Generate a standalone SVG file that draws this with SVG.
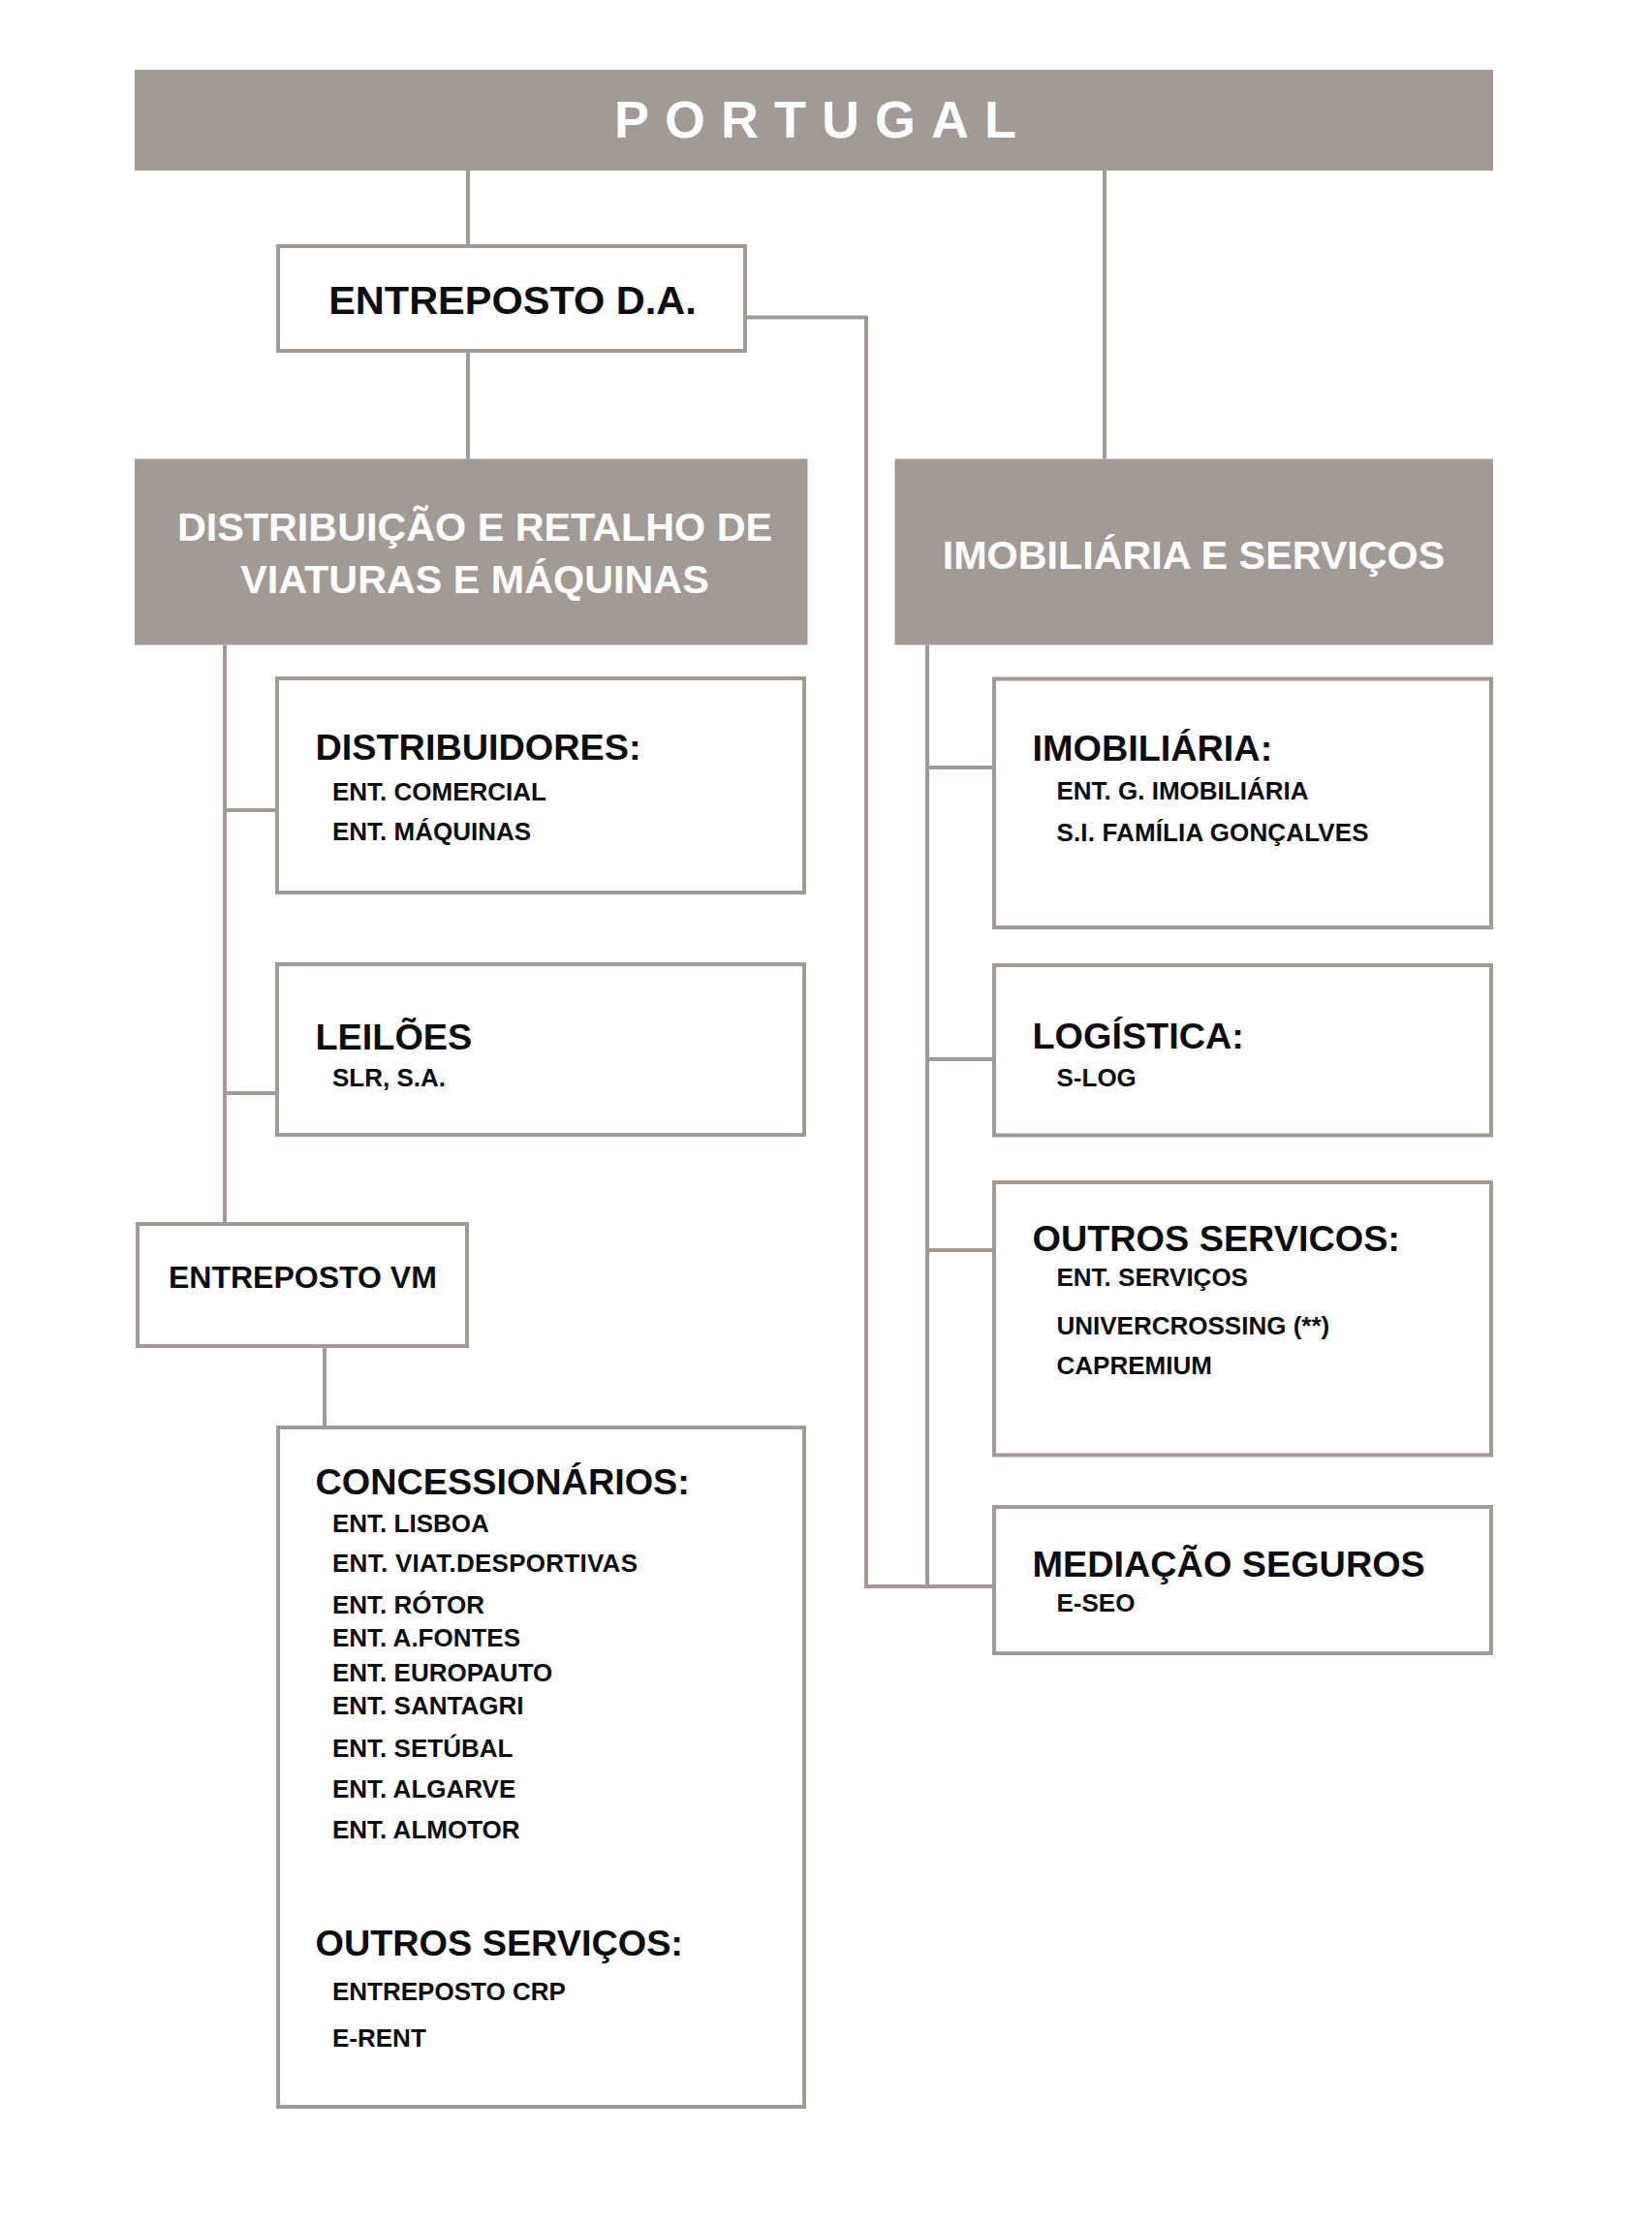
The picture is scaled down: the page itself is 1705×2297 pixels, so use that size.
<svg xmlns="http://www.w3.org/2000/svg" width="1705" height="2297" viewBox="0 0 1705 2297">
<style>
  .bar { fill: #a19a95; stroke: none; }
  .box { fill: #ffffff; stroke: #a19b96; stroke-width: 4; }
  .con { fill: none; stroke: #a19b96; stroke-width: 4; }
  text { font-family: "Liberation Sans", Arial, sans-serif; font-weight: bold; }
  .bt { fill: #ffffff; font-size: 41.3px; text-anchor: middle; }
  .title { fill: #ffffff; font-size: 54px; letter-spacing: 16px; }
  .h { fill: #0d0d0d; font-size: 37.8px; }
  .s { fill: #0d0d0d; font-size: 26px; }
  .ed { fill: #0d0d0d; font-size: 41.5px; text-anchor: middle; }
  .vm { fill: #0d0d0d; font-size: 32px; }
</style>
<rect width="1705" height="2297" fill="#ffffff"/>

<g id="connectors">
  <path class="con" d="M483 176 V252"/>
  <path class="con" d="M483 364 V473.5"/>
  <path class="con" d="M1140 176 V473.5"/>
  <path class="con" d="M771 327.5 H894 V1637 H1024"/>
  <path class="con" d="M232 665.5 V1261"/>
  <path class="con" d="M232 836 H284"/>
  <path class="con" d="M232 1128 H284"/>
  <path class="con" d="M957 665.5 V1637"/>
  <path class="con" d="M957 792 H1024"/>
  <path class="con" d="M957 1093 H1024"/>
  <path class="con" d="M957 1290 H1024"/>
  <path class="con" d="M335 1391 V1471"/>
</g>

<g id="portugal">
  <rect class="bar" x="139" y="72" width="1402" height="104"/>
  <text class="title" x="634" y="142">PORTUGAL</text>
</g>

<g id="entreposto-da">
  <rect class="box" x="287" y="254" width="482" height="108"/>
  <text class="ed" x="529" y="324">ENTREPOSTO D.A.</text>
</g>

<g id="distribuicao">
  <rect class="bar" x="139" y="473.5" width="694.5" height="192"/>
  <text class="bt" x="490" y="558">DISTRIBUIÇÃO E RETALHO DE</text>
  <text class="bt" x="490" y="612">VIATURAS E MÁQUINAS</text>
</g>

<g id="imobiliaria-servicos">
  <rect class="bar" x="923.5" y="473.5" width="617.5" height="192"/>
  <text class="bt" x="1232" y="587">IMOBILIÁRIA E SERVIÇOS</text>
</g>

<g id="distribuidores">
  <rect class="box" x="286" y="700" width="544" height="221"/>
  <text class="h" x="325.5" y="784">DISTRIBUIDORES:</text>
  <text class="s" x="343" y="826">ENT. COMERCIAL</text>
  <text class="s" x="343" y="867">ENT. MÁQUINAS</text>
</g>

<g id="leiloes">
  <rect class="box" x="286" y="995" width="544" height="176"/>
  <text class="h" x="325.5" y="1083">LEILÕES</text>
  <text class="s" x="343" y="1121">SLR, S.A.</text>
</g>

<g id="entreposto-vm">
  <rect class="box" x="142" y="1263" width="340" height="126"/>
  <text class="vm" x="174" y="1329">ENTREPOSTO VM</text>
</g>

<g id="concessionarios">
  <rect class="box" x="287" y="1473" width="543" height="701"/>
  <text class="h" x="325.5" y="1542">CONCESSIONÁRIOS:</text>
  <text class="s" x="343" y="1580.5">ENT. LISBOA</text>
  <text class="s" x="343" y="1622" textLength="315" lengthAdjust="spacing">ENT. VIAT.DESPORTIVAS</text>
  <text class="s" x="343" y="1664.5">ENT. RÓTOR</text>
  <text class="s" x="343" y="1699">ENT. A.FONTES</text>
  <text class="s" x="343" y="1734.5">ENT. EUROPAUTO</text>
  <text class="s" x="343" y="1769">ENT. SANTAGRI</text>
  <text class="s" x="343" y="1812.5">ENT. SETÚBAL</text>
  <text class="s" x="343" y="1854.5">ENT. ALGARVE</text>
  <text class="s" x="343" y="1896.5">ENT. ALMOTOR</text>
  <text class="h" x="325.5" y="2018">OUTROS SERVIÇOS:</text>
  <text class="s" x="343" y="2063.5">ENTREPOSTO CRP</text>
  <text class="s" x="343" y="2112">E-RENT</text>
</g>

<g id="imobiliaria">
  <rect class="box" x="1026" y="700.5" width="513" height="256.5"/>
  <text class="h" x="1065.5" y="785">IMOBILIÁRIA:</text>
  <text class="s" x="1090.5" y="825">ENT. G. IMOBILIÁRIA</text>
  <text class="s" x="1090.5" y="868" textLength="322" lengthAdjust="spacing">S.I. FAMÍLIA GONÇALVES</text>
</g>

<g id="logistica">
  <rect class="box" x="1026" y="996" width="513" height="175.5"/>
  <text class="h" x="1065.5" y="1081.5">LOGÍSTICA:</text>
  <text class="s" x="1090.5" y="1120.5">S-LOG</text>
</g>

<g id="outros-servicos">
  <rect class="box" x="1026" y="1220" width="513" height="281.5"/>
  <text class="h" x="1065.5" y="1291">OUTROS SERVICOS:</text>
  <text class="s" x="1090.5" y="1327">ENT. SERVIÇOS</text>
  <text class="s" x="1090.5" y="1377">UNIVERCROSSING (**)</text>
  <text class="s" x="1090.5" y="1418">CAPREMIUM</text>
</g>

<g id="mediacao-seguros">
  <rect class="box" x="1026" y="1555" width="513" height="151"/>
  <text class="h" x="1065.5" y="1627">MEDIAÇÃO SEGUROS</text>
  <text class="s" x="1090.5" y="1663">E-SEO</text>
</g>
</svg>
